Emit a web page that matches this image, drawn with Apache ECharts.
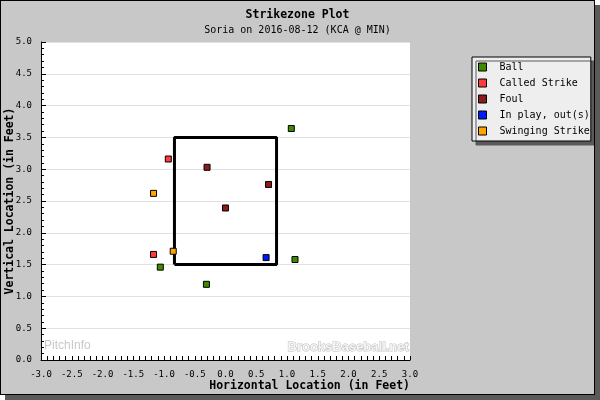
<!DOCTYPE html>
<html>
<head>
<meta charset="utf-8">
<script src="https://cdn.jsdelivr.net/npm/echarts@6/dist/echarts.min.js"></script>
<style>
  html, body { margin: 0; padding: 0; background: #fff; }
  #main { position: absolute; left: 0; top: 0; width: 593px; height: 393px;
          border: 1px solid #000; box-shadow: 5px 5px 0 #5a5a5a; background: #c8c8c8; }
</style>
</head>
<body>
<div id="main"></div>
<script>
// pitch locations, feet (catcher's view)
var ballX = [1.07, 1.13, -1.06, -0.31];
var ballY = [3.64, 1.58, 1.46, 1.19];
var calledX = [-0.93, -1.17];
var calledY = [3.16, 1.66];
var foulX = [-0.30, 0.70, 0.00];
var foulY = [3.03, 2.76, 2.39];
var inplayX = [0.66];
var inplayY = [1.61];
var swingX = [-1.17, -0.85];
var swingY = [2.62, 1.71];
// strike zone outline
var zoneX = [-0.83, 0.83, 0.83, -0.83, -0.83];
var zoneY = [1.5, 1.5, 3.5, 3.5, 1.5];

var names = ['Ball', 'Called Strike', 'Foul', 'In play, out(s)', 'Swinging Strike'];
var colors = ['#3d8c00', '#ff3b3b', '#8c1c1c', '#0018ff', '#ffa500'];
var xs = [ballX, calledX, foulX, inplayX, swingX];
var ys = [ballY, calledY, foulY, inplayY, swingY];

function pairs(a, b) {
    var out = [];
    for (var i = 0; i < a.length; i++) {
        out.push([a[i], b[i]]);
    }
    return out;
}

var mono = 'DejaVu Sans Mono';
var series = [{
    name: 'zone',
    type: 'line',
    data: pairs(zoneX, zoneY),
    showSymbol: false,
    silent: true,
    z: 1,
    lineStyle: { color: '#000', width: 3 }
}];
for (var i = 0; i < names.length; i++) {
    series.push({
        name: names[i],
        type: 'scatter',
        data: pairs(xs[i], ys[i]),
        symbol: 'rect',
        symbolSize: 6,
        z: 3,
        itemStyle: { color: colors[i], borderColor: '#000', borderWidth: 1, opacity: 1 }
    });
}

var myChart = echarts.init(document.getElementById('main'));
var option = {
    backgroundColor: '#c8c8c8',
    animation: false,
    title: {
        text: 'Strikezone Plot',
        subtext: 'Soria on 2016-08-12 (KCA @ MIN)',
        left: 'center',
        top: 3,
        itemGap: 4,
        textStyle: { fontFamily: mono, fontSize: 11.5, fontWeight: 'bold', color: '#000' },
        subtextStyle: { fontFamily: mono, fontSize: 10, color: '#000' }
    },
    legend: {
        data: names,
        orient: 'vertical',
        left: 471,
        top: 56,
        itemWidth: 8,
        itemHeight: 8,
        itemGap: 4,
        padding: [4, 1, 4, 6],
        backgroundColor: '#eeeeee',
        borderColor: '#000',
        borderWidth: 1,
        shadowColor: '#5a5a5a',
        shadowBlur: 0,
        shadowOffsetX: 4,
        shadowOffsetY: 4,
        icon: 'rect',
        itemStyle: { borderColor: '#000', borderWidth: 1 },
        textStyle: { fontFamily: mono, fontSize: 10, color: '#000', lineHeight: 12, padding: [0, 0, 0, 8] }
    },
    grid: { left: 40, top: 41, right: 184, bottom: 34, outerBoundsMode: 'none',
            show: true, backgroundColor: '#fff', borderWidth: 0 },
    xAxis: {
        type: 'value',
        min: -3, max: 3, interval: 0.5,
        name: 'Horizontal Location (in Feet)',
        nameLocation: 'end',
        nameGap: 0,
        nameMoveOverlap: false,
        nameTextStyle: { fontFamily: mono, fontSize: 11.5, fontWeight: 'bold', color: '#000',
                         align: 'right', verticalAlign: 'top', padding: [20, 0, 0, 0] },
        axisLine: { onZero: false, lineStyle: { color: '#000', width: 1 } },
        axisTick: { inside: true, length: 4, lineStyle: { color: '#000' } },
        minorTick: { show: true, splitNumber: 5, length: 4, lineStyle: { color: '#000' } },
        splitLine: { show: false },
        axisLabel: { fontFamily: mono, fontSize: 9, color: '#000', margin: 10,
                     formatter: function (v) { return v.toFixed(1); } }
    },
    yAxis: {
        type: 'value',
        min: 0, max: 5, interval: 0.5,
        name: 'Vertical Location (in Feet)',
        nameLocation: 'middle',
        nameGap: 25,
        nameMoveOverlap: false,
        nameTextStyle: { fontFamily: mono, fontSize: 11.5, fontWeight: 'bold', color: '#000' },
        axisLine: { onZero: false, lineStyle: { color: '#000', width: 1 } },
        axisTick: { inside: true, length: 5, lineStyle: { color: '#000' } },
        minorTick: { show: true, splitNumber: 5, length: 3, lineStyle: { color: '#000' } },
        splitLine: { show: true, lineStyle: { color: '#e2e2e2', width: 1 } },
        axisLabel: { fontFamily: mono, fontSize: 9, color: '#000', margin: 9,
                     formatter: function (v) { return v.toFixed(1); } }
    },
    graphic: [
        { type: 'text', left: 43, top: 339, z: 0,
          style: { text: 'PitchInfo', font: '12px "Liberation Sans"', fill: '#c8c8c8' } },
        { type: 'text', left: 286, top: 339, z: 0,
          style: { text: 'BrooksBaseball.net', font: 'bold 13px "Liberation Sans"', fill: '#f4f4f4',
                   stroke: '#bdbdbd', lineWidth: 1 } }
    ],
    series: series
};
myChart.setOption(option);
</script>
</body>
</html>
